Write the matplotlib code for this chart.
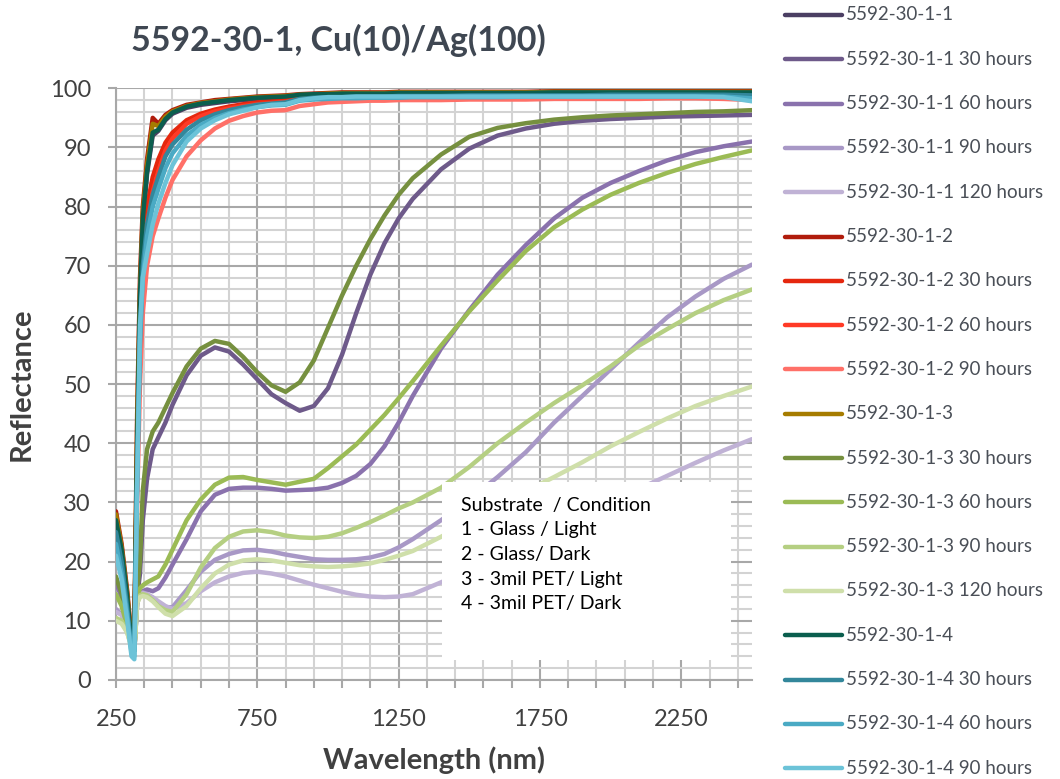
import numpy as np
import matplotlib
matplotlib.use('Agg')
import matplotlib.pyplot as plt
from matplotlib.lines import Line2D
from matplotlib.patches import Rectangle

plt.rcParams['font.family'] = ['Lato', 'DejaVu Sans']

# longitudes de onda (nm)
wl = [250, 270, 290, 305, 315, 325, 335, 345, 360, 380, 400, 425, 450, 500,
      550, 600, 650, 700, 750, 800, 850, 900, 950, 1000, 1050, 1100, 1150,
      1200, 1250, 1300, 1400, 1500, 1600, 1700, 1800, 1900, 2000, 2100, 2200,
      2300, 2400, 2500]

# 5592-30-1-1 (vidrio / luz)
r11_0 = [26.5, 21.5, 13.5, 6, 7, 39, 64, 77, 85.5, 92, 92.8, 94.6, 95.7, 96.7,
         97.2, 97.5, 97.8, 98, 98.2, 98.3, 98.4, 98.7, 98.8, 98.8, 98.9, 98.9,
         98.9, 99, 99, 99, 99, 99.1, 99.1, 99.1, 99.1, 99.1, 99.2, 99.2, 99.2,
         99.2, 99.2, 99.2]
r11_30 = [17, 14, 10, 6, 5, 14, 18, 27, 34, 39, 41, 43.5, 46.5, 51.5, 54.8,
          56.2, 55.5, 53.3, 50.8, 48.3, 46.8, 45.5, 46.3, 49.3, 55, 62, 68.5,
          73.8, 78, 81.3, 86.3, 89.8, 92, 93.2, 94, 94.5, 94.8, 95, 95.2, 95.3,
          95.4, 95.5]
r11_60 = [16.5, 14, 10, 6, 5, 13, 14.5, 15, 15.3, 15, 15.5, 17.3, 19.5, 23.8,
          28.5, 31.3, 32.3, 32.5, 32.5, 32.3, 32, 32.1, 32.2, 32.5, 33.3, 34.5,
          36.5, 39.5, 43.5, 48, 56, 62.5, 68.5, 73.5, 78, 81.5, 84, 86, 87.8,
          89.2, 90.2, 91]
r11_90 = [12, 11, 9, 6, 5, 13, 14.5, 14.8, 14.5, 13.8, 13, 12.3, 12.3, 15.2,
          18.3, 20.3, 21.3, 21.9, 22, 21.7, 21.2, 20.8, 20.4, 20.3, 20.3, 20.4,
          20.7, 21.3, 22.4, 23.8, 27, 30.5, 34.3, 38.5, 43.5, 48, 52.5, 57,
          61.3, 64.8, 67.8, 70.2]
r11_120 = [11.5, 11, 9, 6, 5, 13.5, 14.5, 14.7, 14.5, 14, 13.3, 12.5, 12, 13,
           15, 16.5, 17.5, 18.1, 18.3, 18, 17.5, 16.8, 16.1, 15.5, 14.9, 14.4,
           14.1, 14, 14.1, 14.5, 16.5, 18.6, 20.9, 23.3, 25.6, 28, 30.2, 32.3,
           34.5, 36.7, 38.8, 40.7]

# 5592-30-1-2 (vidrio / oscuridad)
r12_0 = [28.5, 23, 15, 7, 8, 45, 68, 80, 88, 95, 94, 95.5, 96.3, 97.2, 97.6,
         98, 98.2, 98.4, 98.6, 98.7, 98.8, 99, 99.1, 99.2, 99.3, 99.3, 99.3,
         99.3, 99.4, 99.4, 99.4, 99.4, 99.4, 99.4, 99.5, 99.5, 99.5, 99.5, 99.5,
         99.5, 99.5, 99.5]
r12_30 = [26, 21, 13, 6, 7, 38, 60, 72, 80, 85, 88, 90.8, 92.5, 94.6, 95.7,
          96.4, 96.9, 97.3, 97.6, 97.8, 98, 98.4, 98.5, 98.6, 98.6, 98.7, 98.7,
          98.8, 98.8, 98.9, 98.9, 99, 99, 99, 99, 99.1, 99.1, 99.1, 99.1, 99.2,
          99.2, 99.2]
r12_60 = [25, 20, 12.5, 6, 6.5, 35, 57, 69, 77, 82.5, 86, 89.5, 91.5, 94,
          95.3, 96.1, 96.6, 97, 97.3, 97.5, 97.7, 98.2, 98.3, 98.4, 98.4, 98.5,
          98.5, 98.6, 98.6, 98.7, 98.7, 98.8, 98.8, 98.8, 98.8, 98.9, 98.9,
          98.9, 98.9, 99, 99, 98.9]
r12_90 = [24, 19, 12, 5, 6, 30, 50, 62, 70, 75, 78, 81.5, 84.5, 88.5, 91.2,
          93.2, 94.5, 95.3, 95.9, 96.2, 96.3, 97, 97.3, 97.6, 97.7, 97.8, 97.9,
          97.9, 98, 98, 98, 98.1, 98.1, 98.1, 98.2, 98.2, 98.2, 98.2, 98.3,
          98.3, 98.2, 98]

# 5592-30-1-3 (PET / luz)
r13_0 = [28, 22.5, 14.5, 6.5, 7.5, 43, 66, 79, 87, 94, 93.6, 95.2, 96.1, 97,
         97.5, 97.8, 98.1, 98.3, 98.5, 98.6, 98.7, 98.9, 99, 99.1, 99.2, 99.2,
         99.2, 99.2, 99.3, 99.3, 99.3, 99.3, 99.3, 99.3, 99.4, 99.4, 99.4, 99.4,
         99.4, 99.4, 99.4, 99.4]
r13_30 = [17.5, 14.5, 10, 6, 5, 15, 20, 32, 39, 42, 43.5, 46, 48.5, 53, 56,
          57.3, 56.8, 54.6, 52, 49.8, 48.7, 50.3, 54, 59.5, 65, 70, 74.5, 78.5,
          82, 84.8, 88.8, 91.8, 93.3, 94.1, 94.7, 95.1, 95.4, 95.6, 95.8, 96,
          96.1, 96.3]
r13_60 = [14.5, 12.5, 9, 5.5, 5, 14, 15.5, 16, 16.5, 17, 17.5, 19.5, 22, 27,
          30.5, 33, 34.2, 34.3, 33.8, 33.4, 33, 33.5, 34, 35.8, 37.8, 39.8,
          42.3, 44.8, 47.6, 50.5, 56.5, 62.3, 67.5, 72.5, 76.5, 79.5, 82, 84,
          85.7, 87.2, 88.4, 89.5]
r13_90 = [10.5, 10, 8, 5.5, 5, 13, 14.3, 14.5, 14.3, 13.5, 12.5, 11.8, 11.5,
          14.5, 19, 22.3, 24.2, 25.1, 25.3, 25, 24.4, 24.1, 24, 24.2, 24.8,
          25.7, 26.7, 27.8, 29, 30, 32.5, 36, 40, 43.5, 46.8, 49.8, 53, 56.5,
          59.3, 62, 64.2, 66]
r13_120 = [10, 9.5, 8, 5.5, 5, 13, 14, 14.2, 14, 13.3, 12.3, 11.2, 10.8, 12.5,
           15.5, 18, 19.5, 20.2, 20.4, 20.2, 19.8, 19.4, 19.2, 19.1, 19.2, 19.4,
           19.7, 20.3, 21, 21.8, 24.2, 26.8, 29.4, 31.9, 34.3, 36.8, 39.5, 41.9,
           44.2, 46.3, 48, 49.6]

# 5592-30-1-4 (PET / oscuridad)
r14_0 = [27, 22, 14, 6, 7, 40, 65, 78, 86, 92.5, 93, 94.8, 95.9, 96.9, 97.4,
         97.7, 98, 98.2, 98.4, 98.5, 98.6, 98.9, 99, 99, 99.1, 99.1, 99.1, 99.1,
         99.2, 99.2, 99.2, 99.2, 99.2, 99.2, 99.3, 99.3, 99.3, 99.3, 99.3, 99.3,
         99.3, 99.3]
r14_30 = [25, 20, 12, 5, 5, 35, 58, 70, 77, 82, 85, 88.5, 90.5, 93, 94.6,
          95.6, 96.3, 96.8, 97.2, 97.4, 97.6, 98.2, 98.4, 98.5, 98.5, 98.6,
          98.6, 98.6, 98.7, 98.7, 98.7, 98.8, 98.8, 98.8, 98.8, 98.8, 98.9,
          98.9, 98.9, 98.9, 98.9, 98.8]
r14_60 = [23, 18, 11, 4.5, 4, 33, 57, 68, 75, 80, 83, 86.5, 89, 92, 93.8, 95,
          95.8, 96.4, 96.8, 97.1, 97.2, 97.9, 98.1, 98.2, 98.3, 98.3, 98.4,
          98.4, 98.4, 98.5, 98.5, 98.5, 98.5, 98.6, 98.6, 98.6, 98.6, 98.6,
          98.6, 98.6, 98.6, 98.3]
r14_90 = [21, 17, 10, 4, 3.5, 33, 60, 68, 72, 77, 80.5, 84, 87, 91, 93.2,
          94.6, 95.6, 96.2, 96.8, 97.2, 97.3, 98, 98.3, 98.5, 98.5, 98.6, 98.6,
          98.6, 98.6, 98.6, 98.6, 98.6, 98.6, 98.6, 98.6, 98.6, 98.6, 98.6,
          98.6, 98.6, 98.5, 97.8]

series = [r11_0, r11_30, r11_60, r11_90, r11_120,
          r12_0, r12_30, r12_60, r12_90,
          r13_0, r13_30, r13_60, r13_90, r13_120,
          r14_0, r14_30, r14_60, r14_90]
etiquetas = ['5592-30-1-1', '5592-30-1-1 30 hours', '5592-30-1-1 60 hours',
             '5592-30-1-1 90 hours', '5592-30-1-1 120 hours',
             '5592-30-1-2', '5592-30-1-2 30 hours', '5592-30-1-2 60 hours',
             '5592-30-1-2 90 hours',
             '5592-30-1-3', '5592-30-1-3 30 hours', '5592-30-1-3 60 hours',
             '5592-30-1-3 90 hours', '5592-30-1-3 120 hours',
             '5592-30-1-4', '5592-30-1-4 30 hours', '5592-30-1-4 60 hours',
             '5592-30-1-4 90 hours']
colores = ['#4b3f63', '#6e5a8a', '#8a72ad', '#a898c6', '#c0b2d5',
           '#b01c0c', '#e5270e', '#ff3a26', '#ff7068',
           '#a67c00', '#76903f', '#9bbb55', '#b5cf82', '#cfdfaa',
           '#0b5e4e', '#33879b', '#4aaac4', '#6cc3d8']

nota = ['Substrate  / Condition', '1 - Glass / Light', '2 - Glass/ Dark',
        '3 - 3mil PET/ Light', '4 - 3mil PET/ Dark']

gris = '#404040'
fig = plt.figure(figsize=(10.6, 7.79), dpi=100)
ax = fig.add_axes([0.1094, 0.1271, 0.6, 0.7596])

for r, c, lab in zip(series, colores, etiquetas):
    ax.plot(wl, r, color=c, lw=3.2, label=lab, solid_capstyle='round', zorder=3)

ax.set_xlim(250, 2500)
ax.set_ylim(0, 100)
ax.set_xticks([250, 750, 1250, 1750, 2250])
ax.set_xticks(np.arange(350, 2500, 100), minor=True)
ax.set_yticks(np.arange(0, 101, 10))
ax.set_yticks(np.arange(0, 101, 2), minor=True)
ax.grid(which='minor', color='#d3d3d3', lw=1.5, zorder=0)
ax.grid(which='major', color='#a8a8a8', lw=1.5, zorder=0)
for s in ['top', 'right']:
    ax.spines[s].set_visible(False)
for s in ['left', 'bottom']:
    ax.spines[s].set_color('#a8a8a8')
    ax.spines[s].set_linewidth(1.5)
ax.tick_params(which='both', color='#a8a8a8', width=1.5, length=6,
               labelsize=17, labelcolor=gris)
ax.tick_params(axis='y', which='minor', length=0)
ax.tick_params(axis='y', pad=12)
ax.tick_params(axis='x', pad=15)
ax.set_xlabel('Wavelength (nm)', fontsize=21, fontweight='bold', color=gris,
              labelpad=12)
ax.set_ylabel('Reflectance', fontsize=21, fontweight='bold', color=gris,
              labelpad=11)
fig.text(0.319, 0.948, '5592-30-1, Cu(10)/Ag(100)', fontsize=24.5,
         fontweight='bold', color='#3f4752', ha='center', va='center')

# recuadro con la nota de sustrato/condición
ax.add_patch(Rectangle((0.5126, 0.034), 0.455, 0.30, transform=ax.transAxes,
                       facecolor='white', edgecolor='none', zorder=4))
for i, linea in enumerate(nota):
    ax.text(0.542, 0.295 - i * 0.0415, linea, transform=ax.transAxes,
            fontsize=14, color='black', va='center', zorder=5)

# leyenda manual a la derecha
for i, (c, lab) in enumerate(zip(colores, etiquetas)):
    yf = 1 - (15 + i * 44.3) / 779
    fig.add_artist(Line2D([785 / 1060, 842 / 1060], [yf, yf], color=c, lw=3.2,
                          solid_capstyle='round'))
    fig.text(846 / 1060, yf, lab, fontsize=13.5, color='#4a4f57', va='center')

plt.savefig('out.png', dpi=100)
plt.close()
